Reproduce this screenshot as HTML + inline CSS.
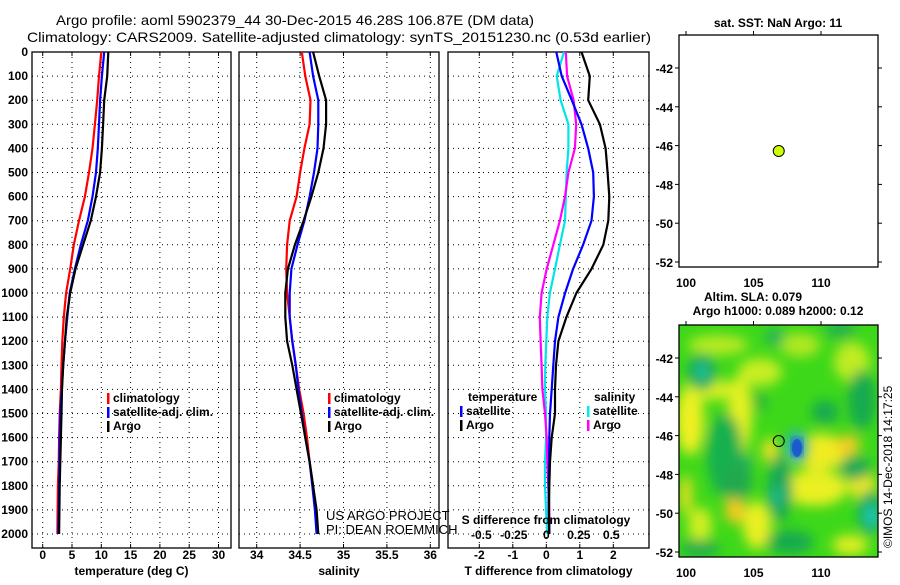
<!DOCTYPE html>
<html><head><meta charset="utf-8">
<style>
html,body{margin:0;padding:0;background:#fff;}
svg text{font-family:"Liberation Sans",sans-serif;}
.b{font-weight:bold;font-size:12px;}
</style></head>
<body>
<svg id="fig" width="900" height="580" viewBox="0 0 900 580" xmlns="http://www.w3.org/2000/svg">
<defs>
<clipPath id="mapclip"><rect x="679" y="325" width="199" height="232"/></clipPath>
<filter id="blur" x="-20%" y="-20%" width="140%" height="140%"><feGaussianBlur stdDeviation="6"/></filter>
</defs>
<text x="56" y="25" font-size="14" textLength="478" lengthAdjust="spacingAndGlyphs">Argo profile: aoml 5902379_44 30-Dec-2015 46.28S 106.87E (DM data)</text>
<text x="27" y="42" font-size="14" textLength="624" lengthAdjust="spacingAndGlyphs">Climatology: CARS2009. Satellite-adjusted climatology: synTS_20151230.nc (0.53d earlier)</text>
<g id="plots"></g>
</svg>
<script>
// ---- data ----
const depths = [0,100,200,300,400,500,600,700,800,900,1000,1100,1200,1300,1400,1500,1600,1700,1800,1900,2000];
const depthTicks = [0,100,200,300,400,500,600,700,800,900,1000,1100,1200,1300,1400,1500,1600,1700,1800,1900,2000];
const tempClim = [10.0,9.6,9.3,8.9,8.5,7.9,7.2,6.2,5.3,4.7,4.0,3.6,3.35,3.2,3.1,2.9,2.8,2.75,2.6,2.55,2.5];
const tempSat  = [10.5,10.1,9.8,9.6,9.4,9.1,8.5,7.7,6.5,5.5,4.6,4.2,3.8,3.5,3.25,3.0,2.9,2.85,2.8,2.75,2.65];
const tempArgo = [11.2,11.0,10.5,10.3,10.1,9.8,9.1,8.2,6.9,5.6,4.7,4.1,3.8,3.5,3.3,3.2,3.1,3.0,2.9,2.85,2.8];
const salClim = [34.52,34.56,34.62,34.61,34.55,34.5,34.46,34.38,34.35,34.34,34.35,34.38,34.41,34.45,34.49,34.54,34.58,34.61,34.65,34.68,34.7];
const salSat  = [34.61,34.65,34.71,34.71,34.7,34.66,34.61,34.55,34.47,34.4,34.38,34.38,34.41,34.45,34.48,34.52,34.56,34.61,34.64,34.67,34.69];
const salArgo = [34.65,34.72,34.8,34.8,34.77,34.71,34.63,34.54,34.44,34.36,34.33,34.33,34.35,34.41,34.46,34.51,34.56,34.61,34.65,34.69,34.71];
const dTsat  = [0.3,0.46,0.76,1.05,1.25,1.4,1.42,1.35,1.1,0.8,0.56,0.36,0.26,0.21,0.16,0.11,0.09,0.08,0.07,0.07,0.09];
const dTargo = [1.05,1.3,1.25,1.6,1.77,1.83,1.88,1.85,1.7,1.35,0.9,0.6,0.36,0.29,0.26,0.26,0.16,0.11,0.09,0.08,0.09];
const dSsat  = [0.136,0.08,0.11,0.17,0.17,0.156,0.15,0.144,0.105,0.067,0.028,0.008,0.0,-0.008,-0.01,-0.002,-0.002,-0.01,-0.01,-0.002,0.008];
const dSargo = [0.15,0.16,0.21,0.23,0.22,0.17,0.144,0.105,0.054,0.003,-0.036,-0.05,-0.044,-0.036,-0.03,-0.01,0.003,0.008,0.015,0.023,0.023];
const tempTicks = [0,5,10,15,20,25,30];
const salTicks = [34,34.5,35,35.5,36];
const salTickLabels = ["34","34.5","35","35.5","36"];
const dTTicks = [-2,-1,0,1,2];
const dSTicks = [-0.5,-0.25,0,0.25,0.5];
const dSTickLabels = ["-0.5","-0.25","0","0.25","0.5"];
const lonTicks = [100,105,110];
const latTicks = [-42,-44,-46,-48,-50,-52];
const floatLon = [106.87];
const floatLat = [-46.28];

// ---- scales ----
const PT=52, PB=548;
const yD = d => 52 + d*0.241;
const xT = v => 42.7 + v*5.86;
const xS = v => 256.7 + (v-34)*86.8;
const xDT = v => 546.3 + v*33.5;
const xDS = v => 546.3 + v*130;
const xLon = v => 686 + (v-100)*13.5;
const yLatTop = v => 68 + (-42 - v)*19.4;
const yLatBot = v => 358 + (-42 - v)*19.4;

const NS="http://www.w3.org/2000/svg";
const root=document.getElementById('plots');
function mk(tag,attrs,parent){const e=document.createElementNS(NS,tag);for(const k in attrs)e.setAttribute(k,attrs[k]);(parent||root).appendChild(e);return e;}
function txt(s,attrs,parent){const e=mk('text',attrs,parent);e.textContent=s;return e;}

function panel(name,x0,x1,vticks,xf,labels,xtitle,showY){
  const g=mk('g',{});
  
  
  depthTicks.forEach(d=>{
    const l=mk('line',{x1:x0,x2:x1,y1:yD(d),y2:yD(d),stroke:'#000','stroke-width':1,'stroke-dasharray':'1,4'},g);
    
    
    if(showY){
      const t=txt(String(d),{x:x0-4,y:yD(d)+4,'text-anchor':'end',class:'b'},g);
      
      
    }
  });
  vticks.forEach((v,i)=>{
    const x=xf(v);
    const l=mk('line',{x1:x,x2:x,y1:PT,y2:PB,stroke:'#000','stroke-width':1,'stroke-dasharray':'1,4'},g);
    
    
    mk('line',{x1:x,x2:x,y1:PT,y2:PT+4,stroke:'#000'},g);
    mk('line',{x1:x,x2:x,y1:PB,y2:PB-4,stroke:'#000'},g);
    const t=txt(labels[i],{x:x,y:559,'text-anchor':'middle',class:'b'},g);
    
    
  });
  const fr=mk('rect',{x:x0,y:PT,width:x1-x0,height:PB-PT,fill:'none',stroke:'#000','stroke-width':1.3},g);
  
  
  const tt=txt(xtitle,{x:(x0+x1)/2,y:575,'text-anchor':'middle',class:'b'},g);
  
  
  return g;
}
function series(g,vals,xf,color,name){
  let d='';
  vals.forEach((v,i)=>{
    const x=xf(v), y=yD(depths[i]);
    d+= (i? 'L':'M')+x.toFixed(1)+','+y.toFixed(1);
  });
  const p=mk('path',{d:d,fill:'none',stroke:color,'stroke-width':2.2,'stroke-linejoin':'round'},g);
  
  
}
function legend(g,x,y,items){
  items.forEach((it,i)=>{
    mk('rect',{x:x,y:y+i*14-9,width:2.5,height:11,fill:it[1]},g);
    const t=txt(it[0],{x:x+6,y:y+i*14,class:'b'},g);
    
    
  });
}

// temperature panel
const g1=panel('temperature-panel',32,231,tempTicks,xT,tempTicks.map(String),'temperature (deg C)',true);
series(g1,tempClim,xT,'#ff0000','temp-climatology-line');
series(g1,tempSat,xT,'#0000ff','temp-satellite-line');
series(g1,tempArgo,xT,'#000000','temp-argo-line');
legend(g1,107,402,[['climatology','#f00'],['satellite-adj. clim.','#00f'],['Argo','#000']]);

// salinity panel
const g2=panel('salinity-panel',239,439,salTicks,xS,salTickLabels,'salinity',false);
series(g2,salClim,xS,'#ff0000','sal-climatology-line');
series(g2,salSat,xS,'#0000ff','sal-satellite-line');
series(g2,salArgo,xS,'#000000','sal-argo-line');
legend(g2,328,402,[['climatology','#f00'],['satellite-adj. clim.','#00f'],['Argo','#000']]);
let t=txt('US ARGO PROJECT',{x:326,y:520,'font-size':13},g2);


t=txt('PI: DEAN ROEMMICH',{x:326,y:534,'font-size':13},g2);



// difference panel
const g3=panel('difference-panel',448,649,dTTicks,xDT,dTTicks.map(String),'T difference from climatology',false);
series(g3,dSsat,xDS,'#00e5e5','sdiff-satellite-line');
series(g3,dSargo,xDS,'#ff00ff','sdiff-argo-line');
series(g3,dTsat,xDT,'#0000ff','tdiff-satellite-line');
series(g3,dTargo,xDT,'#000000','tdiff-argo-line');
t=txt('temperature',{x:468,y:401,class:'b'},g3);


t=txt('salinity',{x:594,y:401,class:'b'},g3);


legend(g3,460,415,[['satellite','#00f'],['Argo','#000']]);
legend(g3,587,415,[['satellite','#0ee'],['Argo','#f0f']]);
t=txt('S difference from climatology',{x:546,y:524,'text-anchor':'middle',class:'b'},g3);


dSTicks.forEach((v,i)=>{
  const tt=txt(dSTickLabels[i],{x:xDS(v),y:539,'text-anchor':'middle',class:'b'},g3);
  
  
});

// maps
function mapAxes(g,y0,y1,yf){
  lonTicks.forEach(v=>{
    mk('line',{x1:xLon(v),x2:xLon(v),y1:y0-4,y2:y0,stroke:'#000'},g);
    const tl=txt(String(v),{x:xLon(v),y:y1+20,'text-anchor':'middle',class:'b'},g);
    
    
  });
  latTicks.forEach(v=>{
    mk('line',{x1:675,x2:679,y1:yf(v),y2:yf(v),stroke:'#000'},g);
    mk('line',{x1:878,x2:882,y1:yf(v),y2:yf(v),stroke:'#000'},g);
    const tl=txt(String(v),{x:673,y:yf(v)+5,'text-anchor':'end',class:'b'},g);
    
    
  });
  const r=mk('rect',{x:679,y:y0,width:199,height:y1-y0,fill:'none',stroke:'#000','stroke-width':1.3},g);
  
  
}
const gm1=mk('g',{});


t=txt('sat. SST: NaN Argo: 11',{x:778,y:27,'text-anchor':'middle',class:'b'},gm1);


mapAxes(gm1,35,267,yLatTop);
floatLon.forEach((lo,i)=>{
  const c=mk('circle',{cx:xLon(lo),cy:yLatTop(floatLat[i]),r:5.5,fill:'#ccff00',stroke:'#000','stroke-width':1},gm1);
  
  
});

const gm2=mk('g',{});


t=txt('Altim. SLA: 0.079',{x:753,y:301,'text-anchor':'middle',class:'b'},gm2);


t=txt('Argo h1000: 0.089 h2000: 0.12',{x:778,y:315,'text-anchor':'middle',class:'b'},gm2);


const hm=mk('g',{'clip-path':'url(#mapclip)'},gm2);


mk('rect',{x:679,y:325,width:199,height:232,fill:'#3ed81a'},hm);
const bl=mk('g',{filter:'url(#blur)'},hm);
// blobs: [cx,cy,rx,ry,color]
const blobs=[
 [690,420,14,35,'#f0f020'],[740,415,12,40,'#e8f020'],[760,372,22,14,'#c8ee20'],[718,345,30,10,'#b8ea20'],
 [800,345,20,12,'#b0e820'],[852,362,18,20,'#c0ec20'],[820,452,28,18,'#f0ec20'],[848,445,12,10,'#f8cc20'],
 [815,488,32,18,'#eaf020'],[862,485,14,14,'#f0e820'],[757,525,14,24,'#eaf020'],[735,510,10,14,'#f8c820'],
 [700,525,12,18,'#d0ee20'],[850,545,18,10,'#e0ee20'],[686,495,6,20,'#f0e020'],[712,390,30,10,'#d8f020'],
 [770,450,8,12,'#f0e020'],
 [725,455,18,42,'#18b050'],[702,372,14,18,'#18a85a'],[780,488,12,34,'#18a858'],[760,402,6,10,'#20b040'],
 [825,412,14,12,'#18aa50'],[862,400,14,30,'#18aa50'],[855,468,16,12,'#18a858'],[870,512,12,22,'#18aa60'],
 [790,542,24,12,'#18aa50'],[700,548,20,8,'#18aa50'],[745,462,8,6,'#20b070'],[738,480,14,20,'#20a850'],
 [775,337,10,8,'#20b060'],[840,330,16,8,'#20b050']
];
blobs.forEach(b=>mk('ellipse',{cx:b[0],cy:b[1],rx:b[2],ry:b[3],fill:b[4]},bl));
const bl2=mk('g',{filter:'url(#blur)'},hm);
mk('ellipse',{cx:702,cy:372,rx:6,ry:9,fill:'#22c8b0'},bl2);
mk('ellipse',{cx:871,cy:516,rx:6,ry:12,fill:'#22d0c8'},bl2);
mk('ellipse',{cx:777,cy:496,rx:5,ry:10,fill:'#22c0a0'},bl2);
mk('ellipse',{cx:797,cy:447,rx:10,ry:16,fill:'#20a8e0'},bl2);
mk('ellipse',{cx:797,cy:447,rx:5,ry:8,fill:'#1030c0'},hm).setAttribute('filter','url(#blur)');
mk('ellipse',{cx:797,cy:448,rx:5,ry:9,fill:'#1a50d0',opacity:0.8},hm);
mapAxes(gm2,325,557,yLatBot);
floatLon.forEach((lo,i)=>{
  const c=mk('circle',{cx:xLon(lo),cy:yLatBot(floatLat[i]),r:5.5,fill:'none',stroke:'#000','stroke-width':1},gm2);
  
  
});
t=txt('©IMOS 14-Dec-2018 14:17:25',{x:0,y:0,'font-size':12,transform:'translate(892,548) rotate(-90)'},gm2);


</script>
</body></html>
